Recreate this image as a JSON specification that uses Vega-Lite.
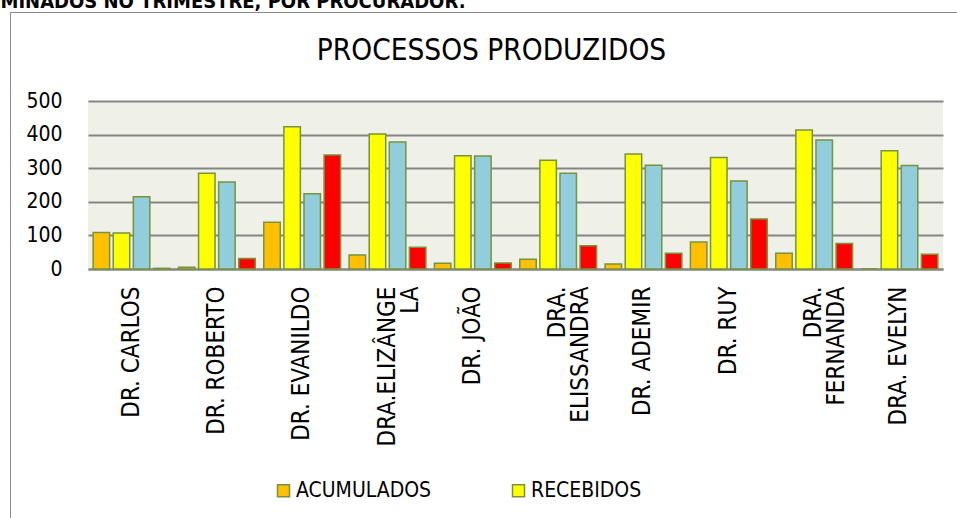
{
  "$schema": "https://vega.github.io/schema/vega-lite/v6.json",
  "width": 855,
  "height": 168,
  "autosize": {"type": "none"},
  "padding": {"left": 88, "top": 101, "right": 14, "bottom": 249},
  "background": "white",
  "data": {
    "values": [
      {"procurador": "DR. CARLOS", "serie": "ACUMULADOS", "valor": 109},
      {"procurador": "DR. CARLOS", "serie": "RECEBIDOS", "valor": 107},
      {"procurador": "DR. CARLOS", "serie": "PRODUZIDOS", "valor": 215},
      {"procurador": "DR. CARLOS", "serie": "REMANESCENTES", "valor": 2},
      {"procurador": "DR. ROBERTO", "serie": "ACUMULADOS", "valor": 5},
      {"procurador": "DR. ROBERTO", "serie": "RECEBIDOS", "valor": 285},
      {"procurador": "DR. ROBERTO", "serie": "PRODUZIDOS", "valor": 259},
      {"procurador": "DR. ROBERTO", "serie": "REMANESCENTES", "valor": 31},
      {"procurador": "DR. EVANILDO", "serie": "ACUMULADOS", "valor": 139},
      {"procurador": "DR. EVANILDO", "serie": "RECEBIDOS", "valor": 423},
      {"procurador": "DR. EVANILDO", "serie": "PRODUZIDOS", "valor": 224},
      {"procurador": "DR. EVANILDO", "serie": "REMANESCENTES", "valor": 339},
      {"procurador": "DRA.ELIZÂNGELA", "serie": "ACUMULADOS", "valor": 42},
      {"procurador": "DRA.ELIZÂNGELA", "serie": "RECEBIDOS", "valor": 402},
      {"procurador": "DRA.ELIZÂNGELA", "serie": "PRODUZIDOS", "valor": 378},
      {"procurador": "DRA.ELIZÂNGELA", "serie": "REMANESCENTES", "valor": 65},
      {"procurador": "DR. JOÃO", "serie": "ACUMULADOS", "valor": 17},
      {"procurador": "DR. JOÃO", "serie": "RECEBIDOS", "valor": 337},
      {"procurador": "DR. JOÃO", "serie": "PRODUZIDOS", "valor": 336},
      {"procurador": "DR. JOÃO", "serie": "REMANESCENTES", "valor": 18},
      {"procurador": "DRA. ELISSANDRA", "serie": "ACUMULADOS", "valor": 29},
      {"procurador": "DRA. ELISSANDRA", "serie": "RECEBIDOS", "valor": 324},
      {"procurador": "DRA. ELISSANDRA", "serie": "PRODUZIDOS", "valor": 285},
      {"procurador": "DRA. ELISSANDRA", "serie": "REMANESCENTES", "valor": 69},
      {"procurador": "DR. ADEMIR", "serie": "ACUMULADOS", "valor": 15},
      {"procurador": "DR. ADEMIR", "serie": "RECEBIDOS", "valor": 342},
      {"procurador": "DR. ADEMIR", "serie": "PRODUZIDOS", "valor": 309},
      {"procurador": "DR. ADEMIR", "serie": "REMANESCENTES", "valor": 47},
      {"procurador": "DR. RUY", "serie": "ACUMULADOS", "valor": 80},
      {"procurador": "DR. RUY", "serie": "RECEBIDOS", "valor": 332},
      {"procurador": "DR. RUY", "serie": "PRODUZIDOS", "valor": 262},
      {"procurador": "DR. RUY", "serie": "REMANESCENTES", "valor": 149},
      {"procurador": "DRA. FERNANDA", "serie": "ACUMULADOS", "valor": 47},
      {"procurador": "DRA. FERNANDA", "serie": "RECEBIDOS", "valor": 414},
      {"procurador": "DRA. FERNANDA", "serie": "PRODUZIDOS", "valor": 384},
      {"procurador": "DRA. FERNANDA", "serie": "REMANESCENTES", "valor": 76},
      {"procurador": "DRA. EVELYN", "serie": "ACUMULADOS", "valor": 0},
      {"procurador": "DRA. EVELYN", "serie": "RECEBIDOS", "valor": 352},
      {"procurador": "DRA. EVELYN", "serie": "PRODUZIDOS", "valor": 308},
      {"procurador": "DRA. EVELYN", "serie": "REMANESCENTES", "valor": 44}
    ]
  },
  "mark": {"type": "bar", "stroke": "#77933C", "strokeWidth": 1.5},
  "encoding": {
    "x": {
      "field": "procurador",
      "type": "nominal",
      "sort": null,
      "scale": {"paddingInner": 0.1, "paddingOuter": 0.06},
      "axis": {
        "labelAngle": -90,
        "labelFont": "DejaVu Sans Condensed, sans-serif",
        "labelFontSize": 24,
        "labelColor": "black",
        "labelPadding": 17,
        "labelLimit": 300,
        "labelLineHeight": 23,
        "labelExpr": "datum.value == 'DRA.ELIZÂNGELA' ? ['DRA.ELIZÂNGE', 'LA'] : datum.value == 'DRA. ELISSANDRA' ? ['DRA.', 'ELISSANDRA'] : datum.value == 'DRA. FERNANDA' ? ['DRA.', 'FERNANDA'] : datum.label",
        "ticks": false,
        "domainColor": "#868686",
        "domainWidth": 2,
        "grid": false,
        "title": "MINADOS NO TRIMESTRE, POR PROCURADOR.",
        "titleAngle": 0,
        "titleX": -88,
        "titleY": -261.5,
        "titleAlign": "left",
        "titleBaseline": "alphabetic",
        "titleFont": "DejaVu Sans Condensed, sans-serif",
        "titleFontSize": 20,
        "titleFontWeight": "bold",
        "titleColor": "black"
      }
    },
    "xOffset": {
      "field": "serie",
      "type": "nominal",
      "sort": ["ACUMULADOS", "RECEBIDOS", "PRODUZIDOS", "REMANESCENTES"],
      "scale": {"paddingInner": 0.18, "paddingOuter": 0}
    },
    "y": {
      "field": "valor",
      "type": "quantitative",
      "scale": {"domain": [0, 500], "nice": false},
      "axis": {
        "values": [0, 100, 200, 300, 400, 500],
        "domain": false,
        "ticks": false,
        "grid": true,
        "gridColor": "#858585",
        "gridWidth": 2,
        "labelFont": "DejaVu Sans Condensed, sans-serif",
        "labelFontSize": 21,
        "labelColor": "black",
        "labelPadding": 26,
        "title": "PROCESSOS PRODUZIDOS",
        "titleAngle": 0,
        "titleX": 403,
        "titleY": -42,
        "titleAlign": "center",
        "titleBaseline": "alphabetic",
        "titleFont": "DejaVu Sans Condensed, sans-serif",
        "titleFontSize": 29.5,
        "titleFontWeight": "normal",
        "titleColor": "black"
      }
    },
    "color": {
      "field": "serie",
      "type": "nominal",
      "scale": {
        "domain": ["ACUMULADOS", "RECEBIDOS", "PRODUZIDOS", "REMANESCENTES"],
        "range": ["#FFC000", "#FFFF00", "#92CDDC", "#FF0000"]
      },
      "legend": {
        "values": ["ACUMULADOS", "RECEBIDOS", "REMANESCENTES"],
        "orient": "none",
        "legendX": -78,
        "legendY": -89,
        "padding": 263,
        "strokeColor": "#898989",
        "direction": "horizontal",
        "columns": 3,
        "columnPadding": 76,
        "title": " ",
        "titleFontSize": 1,
        "titlePadding": 204,
        "symbolType": "square",
        "symbolSize": 144,
        "symbolStrokeColor": "#77933C",
        "symbolStrokeWidth": 1.5,
        "labelOffset": 2,
        "labelFont": "DejaVu Sans Condensed, sans-serif",
        "labelFontSize": 21,
        "labelColor": "black",
        "labelLimit": 400,
        "encode": {
          "labels": {"update": {"opacity": {"signal": "datum.value === 'REMANESCENTES' ? 0 : 1"}}},
          "symbols": {"update": {"opacity": {"signal": "datum.value === 'REMANESCENTES' ? 0 : 1"}}}
        }
      }
    }
  },
  "config": {
    "view": {"fill": "#EFF1E9", "stroke": null}
  }
}
